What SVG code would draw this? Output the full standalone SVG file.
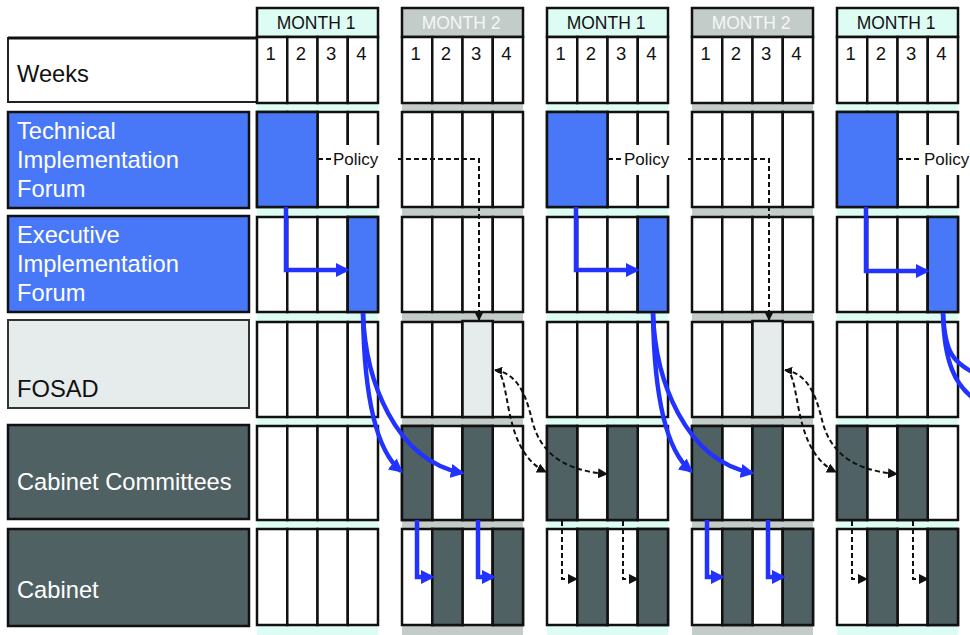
<svg xmlns="http://www.w3.org/2000/svg" xmlns:xlink="http://www.w3.org/1999/xlink" width="970" height="635" viewBox="0 0 970 635">
<style>
  .cell{fill:#fff;stroke:#111;stroke-width:2.5}
  .blue{fill:#4878F8;stroke:#111;stroke-width:2.5}
  .dark{fill:#4F6163;stroke:#111;stroke-width:2.5}
  .pale{fill:#E6EBEB;stroke:#111;stroke-width:2.5}
  .bandA{fill:#DCFCF4}
  .bandB{fill:#C3CCC9}
  .hdrA{fill:#DCFCF4;stroke:#111;stroke-width:2.5}
  .hdrB{fill:#C3CCC9;stroke:#111;stroke-width:2.5}
  .ht{font-family:"Liberation Sans",Arial,sans-serif;font-size:17.5px;text-anchor:middle}
  .htA{fill:#111}
  .htB{fill:#F5F7F7}
  .wk{font-family:"Liberation Sans",Arial,sans-serif;font-size:18.5px;fill:#111;text-anchor:middle}
  .lbl{font-family:"Liberation Sans",Arial,sans-serif;font-size:23.7px}
  .lw{fill:#fff}
  .lk{fill:#111}
  .bluearr{fill:none;stroke:#2233FF;stroke-width:4.5;stroke-linejoin:miter}
  .blkarr{fill:none;stroke:#111;stroke-width:2;stroke-dasharray:5 3}
  .pol{font-family:"Liberation Sans",Arial,sans-serif;font-size:17px;fill:#111}
</style>
<defs>
  <marker id="ab" viewBox="0 0 10 10" refX="8" refY="5" markerWidth="14" markerHeight="14" markerUnits="userSpaceOnUse" orient="auto">
    <path d="M0,0 L10,5 L0,10 z" fill="#2233FF"/>
  </marker>
  <marker id="ak" viewBox="0 0 10 10" refX="9" refY="5" markerWidth="10" markerHeight="10" markerUnits="userSpaceOnUse" orient="auto">
    <path d="M0,0 L10,5 L0,10 z" fill="#111"/>
  </marker>
  <marker id="aks" viewBox="0 0 10 10" refX="1" refY="5" markerWidth="8" markerHeight="8" markerUnits="userSpaceOnUse" orient="auto">
    <path d="M10,0 L0,5 L10,10 z" fill="#111"/>
  </marker>
  <g id="cells">
    <rect class="cell" x="0" y="37" width="30.25" height="66"/>
    <rect class="cell" x="30.25" y="37" width="30.25" height="66"/>
    <rect class="cell" x="60.5" y="37" width="30.25" height="66"/>
    <rect class="cell" x="90.75" y="37" width="30.25" height="66"/>
    <rect class="cell" x="0" y="112" width="30.25" height="95"/>
    <rect class="cell" x="30.25" y="112" width="30.25" height="95"/>
    <rect class="cell" x="60.5" y="112" width="30.25" height="95"/>
    <rect class="cell" x="90.75" y="112" width="30.25" height="95"/>
    <rect class="cell" x="0" y="217" width="30.25" height="95"/>
    <rect class="cell" x="30.25" y="217" width="30.25" height="95"/>
    <rect class="cell" x="60.5" y="217" width="30.25" height="95"/>
    <rect class="cell" x="90.75" y="217" width="30.25" height="95"/>
    <rect class="cell" x="0" y="322" width="30.25" height="95"/>
    <rect class="cell" x="30.25" y="322" width="30.25" height="95"/>
    <rect class="cell" x="60.5" y="322" width="30.25" height="95"/>
    <rect class="cell" x="90.75" y="322" width="30.25" height="95"/>
    <rect class="cell" x="0" y="426" width="30.25" height="94"/>
    <rect class="cell" x="30.25" y="426" width="30.25" height="94"/>
    <rect class="cell" x="60.5" y="426" width="30.25" height="94"/>
    <rect class="cell" x="90.75" y="426" width="30.25" height="94"/>
    <rect class="cell" x="0" y="529" width="30.25" height="96"/>
    <rect class="cell" x="30.25" y="529" width="30.25" height="96"/>
    <rect class="cell" x="60.5" y="529" width="30.25" height="96"/>
    <rect class="cell" x="90.75" y="529" width="30.25" height="96"/>
    <text class="wk" x="13.6" y="60">1</text>
    <text class="wk" x="43.9" y="60">2</text>
    <text class="wk" x="74.1" y="60">3</text>
    <text class="wk" x="104.4" y="60">4</text>
  </g>
  <g id="bandsA" class="bandA">
    <rect x="0" y="104" width="121" height="8"/>
    <rect x="0" y="208" width="121" height="9"/>
    <rect x="0" y="313" width="121" height="9"/>
    <rect x="0" y="418" width="121" height="8"/>
    <rect x="0" y="521" width="121" height="8"/>
    <rect x="0" y="626" width="121" height="10"/>
  </g>
  <g id="bandsB" class="bandB">
    <rect x="0" y="104" width="121" height="8"/>
    <rect x="0" y="208" width="121" height="9"/>
    <rect x="0" y="313" width="121" height="9"/>
    <rect x="0" y="418" width="121" height="8"/>
    <rect x="0" y="521" width="121" height="8"/>
    <rect x="0" y="626" width="121" height="10"/>
  </g>
</defs>
<rect x="0" y="0" width="970" height="635" fill="#fff"/>

<g id="row-labels">
  <g id="label-weeks">
    <rect x="8" y="38" width="249" height="64" fill="#fff" stroke="#222" stroke-width="2"/>
    <line x1="8" y1="38" x2="257" y2="38" stroke="#111" stroke-width="3"/>
    <text class="lbl lk" x="17" y="82">Weeks</text>
  </g>
  <g id="label-tif">
    <rect x="8" y="112" width="241" height="96" fill="#4878F8" stroke="#111" stroke-width="2.5"/>
    <text class="lbl lw" x="17" y="139">Technical</text>
    <text class="lbl lw" x="17" y="168">Implementation</text>
    <text class="lbl lw" x="17" y="197">Forum</text>
  </g>
  <g id="label-eif">
    <rect x="8" y="216" width="241" height="96" fill="#4878F8" stroke="#111" stroke-width="2.5"/>
    <text class="lbl lw" x="17" y="243">Executive</text>
    <text class="lbl lw" x="17" y="272">Implementation</text>
    <text class="lbl lw" x="17" y="301">Forum</text>
  </g>
  <g id="label-fosad">
    <rect x="8" y="320" width="241" height="88" fill="#E6EBEB" stroke="#333" stroke-width="2"/>
    <text class="lbl lk" x="17" y="397">FOSAD</text>
  </g>
  <g id="label-cc">
    <rect x="8" y="425" width="241" height="94" fill="#4F6163" stroke="#111" stroke-width="2.5"/>
    <text class="lbl lw" x="17" y="490">Cabinet Committees</text>
  </g>
  <g id="label-cab">
    <rect x="8" y="529" width="241" height="97" fill="#4F6163" stroke="#111" stroke-width="2.5"/>
    <text class="lbl lw" x="17" y="598">Cabinet</text>
  </g>
</g>

<g id="block1">
  <use xlink:href="#bandsA" x="257"/>
  <rect class="hdrA" x="257" y="8" width="121" height="29"/>
  <text class="ht htA" x="316" y="29">MONTH 1</text>
  <use xlink:href="#cells" x="257"/>
  <rect class="blue" x="257" y="112" width="60.5" height="95"/>
  <rect class="blue" x="347.75" y="217" width="30.25" height="95"/>
</g>
<g id="block2">
  <use xlink:href="#bandsB" x="402"/>
  <rect class="hdrB" x="402" y="8" width="121" height="29"/>
  <text class="ht htB" x="461" y="29">MONTH 2</text>
  <use xlink:href="#cells" x="402"/>
  <rect class="pale" x="462.5" y="321" width="30.25" height="96"/>
  <rect class="dark" x="402" y="426" width="30.25" height="94"/>
  <rect class="dark" x="462.5" y="426" width="30.25" height="94"/>
  <rect class="dark" x="432.25" y="529" width="30.25" height="96"/>
  <rect class="dark" x="492.75" y="529" width="30.25" height="96"/>
</g>
<g id="block3">
  <use xlink:href="#bandsA" x="547"/>
  <rect class="hdrA" x="547" y="8" width="121" height="29"/>
  <text class="ht htA" x="606" y="29">MONTH 1</text>
  <use xlink:href="#cells" x="547"/>
  <rect class="blue" x="547" y="112" width="60.5" height="95"/>
  <rect class="blue" x="637.75" y="217" width="30.25" height="95"/>
  <rect class="dark" x="547" y="426" width="30.25" height="94"/>
  <rect class="dark" x="607.5" y="426" width="30.25" height="94"/>
  <rect class="dark" x="577.25" y="529" width="30.25" height="96"/>
  <rect class="dark" x="637.75" y="529" width="30.25" height="96"/>
</g>
<g id="block4">
  <use xlink:href="#bandsB" x="692"/>
  <rect class="hdrB" x="692" y="8" width="121" height="29"/>
  <text class="ht htB" x="751" y="29">MONTH 2</text>
  <use xlink:href="#cells" x="692"/>
  <rect class="pale" x="752.5" y="321" width="30.25" height="96"/>
  <rect class="dark" x="692" y="426" width="30.25" height="94"/>
  <rect class="dark" x="752.5" y="426" width="30.25" height="94"/>
  <rect class="dark" x="722.25" y="529" width="30.25" height="96"/>
  <rect class="dark" x="782.75" y="529" width="30.25" height="96"/>
</g>
<g id="block5">
  <use xlink:href="#bandsA" x="837"/>
  <rect class="hdrA" x="837" y="8" width="121" height="29"/>
  <text class="ht htA" x="896" y="29">MONTH 1</text>
  <use xlink:href="#cells" x="837"/>
  <rect class="blue" x="837" y="112" width="60.5" height="95"/>
  <rect class="blue" x="927.75" y="217" width="30.25" height="95"/>
  <rect class="dark" x="837" y="426" width="30.25" height="94"/>
  <rect class="dark" x="897.5" y="426" width="30.25" height="94"/>
  <rect class="dark" x="867.25" y="529" width="30.25" height="96"/>
  <rect class="dark" x="927.75" y="529" width="30.25" height="96"/>
</g>

<g id="connectors">
  <path class="blkarr" d="M318,159 H479 V320" marker-end="url(#ak)"/>
  <path class="blkarr" d="M608,159 H769 V320" marker-end="url(#ak)"/>
  <path class="blkarr" d="M898,159 H975"/>
  <path class="bluearr" d="M286,207 V270 H347" marker-end="url(#ab)"/>
  <path class="bluearr" d="M576,207 V270 H637" marker-end="url(#ab)"/>
  <path class="bluearr" d="M866,207 V271 H927" marker-end="url(#ab)"/>
  <path class="bluearr" d="M363,313 C364,390 375,450 401,471" marker-end="url(#ab)"/>
  <path class="bluearr" d="M363,313 C365,380 395,460 462,473" marker-end="url(#ab)"/>
  <path class="bluearr" d="M653,313 C654,390 665,450 691,471" marker-end="url(#ab)"/>
  <path class="bluearr" d="M653,313 C655,380 685,460 752,473" marker-end="url(#ab)"/>
  <path class="bluearr" d="M943,313 C945,352 952,362 976,374"/>
  <path class="bluearr" d="M943,313 C944,362 955,386 976,400"/>
  <path class="blkarr" d="M495,370 C512,372 500,450 546,472" marker-start="url(#aks)" marker-end="url(#ak)"/>
  <path class="blkarr" d="M495,370 C520,374 527,400 532,420 C538,445 555,470 607,474" marker-end="url(#ak)"/>
  <path class="blkarr" d="M785,370 C802,372 790,450 836,472" marker-start="url(#aks)" marker-end="url(#ak)"/>
  <path class="blkarr" d="M785,370 C810,374 817,400 822,420 C828,445 845,470 897,474" marker-end="url(#ak)"/>
  <path class="bluearr" d="M417,520 V577 H432" marker-end="url(#ab)"/>
  <path class="bluearr" d="M478,520 V577 H493" marker-end="url(#ab)"/>
  <path class="bluearr" d="M707,520 V577 H722" marker-end="url(#ab)"/>
  <path class="bluearr" d="M768,520 V577 H783" marker-end="url(#ab)"/>
  <path class="blkarr" d="M562,521 V579 H577" marker-end="url(#ak)"/>
  <path class="blkarr" d="M623,521 V579 H638" marker-end="url(#ak)"/>
  <path class="blkarr" d="M852,521 V579 H867" marker-end="url(#ak)"/>
  <path class="blkarr" d="M913,521 V579 H928" marker-end="url(#ak)"/>
  <g id="policy1">
    <rect x="331" y="145" width="65" height="30" fill="#fff"/>
    <text class="pol" x="333" y="165">Policy</text>
  </g>
  <g id="policy2">
    <rect x="622" y="145" width="64" height="30" fill="#fff"/>
    <text class="pol" x="624" y="165">Policy</text>
  </g>
  <g id="policy3">
    <rect x="922" y="145" width="50" height="30" fill="#fff"/>
    <text class="pol" x="924" y="165">Policy</text>
  </g>
</g>
</svg>
